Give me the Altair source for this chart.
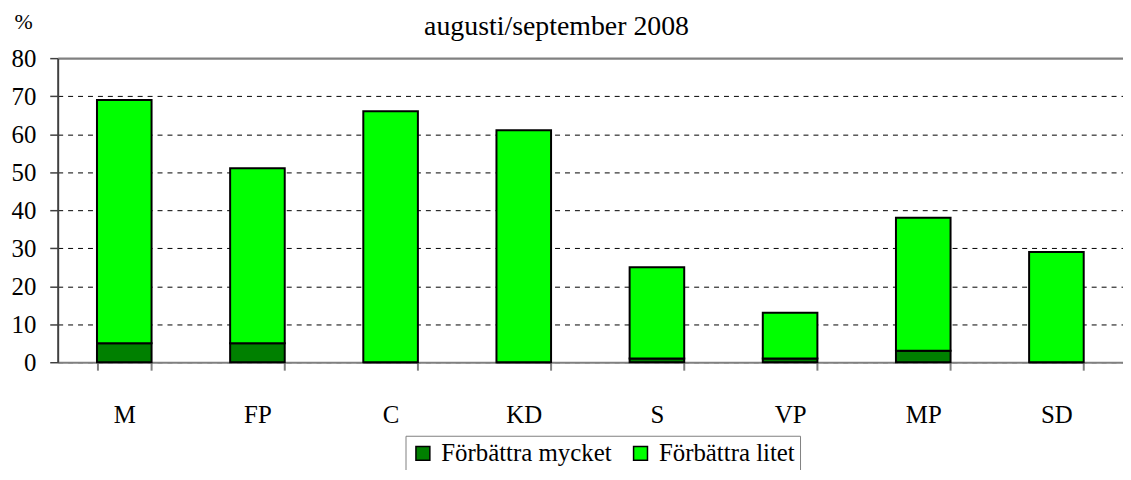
import altair as alt
import pandas as pd

parties = ["M", "FP", "C", "KD", "S", "VP", "MP", "SD"]
mycket = [5, 5, 0, 0, 1, 1, 3, 0]
litet = [64, 46, 66, 61, 24, 12, 35, 29]
series = ["Förbättra mycket", "Förbättra litet"]
colors = ["#008000", "#00FF00"]
y_ticks = [0, 10, 20, 30, 40, 50, 60, 70, 80]

rows = []
for p, a, b in zip(parties, mycket, litet):
    rows.append({"party": p, "series": series[0], "value": a, "ord": 0})
    rows.append({"party": p, "series": series[1], "value": b, "ord": 1})
df = pd.DataFrame(rows)

FONT = "Liberation Serif"

chart = alt.Chart(df).mark_bar(stroke="black", strokeWidth=2).encode(
    x=alt.X("party:N", sort=parties, title=None,
            scale=alt.Scale(paddingInner=0.59, paddingOuter=0.295),
            axis=alt.Axis(labelAngle=0, tickBand="extent", domainColor="#808080",
                          domainWidth=2, tickColor="#808080", tickWidth=2, tickSize=8,
                          labelPadding=33, labelFont=FONT, labelFontSize=25,
                          labelColor="black", grid=False)),
    y=alt.Y("value:Q", stack="zero", title="%",
            scale=alt.Scale(domain=[0, 80], nice=False),
            axis=alt.Axis(values=y_ticks, domainColor="#404040", domainWidth=2,
                          tickColor="#404040", tickWidth=1.5, tickSize=8,
                          labelPadding=14, labelFont=FONT, labelFontSize=25,
                          labelColor="black",
                          grid=True,
                          gridColor={"condition": {"test": "datum.value === 80", "value": "#808080"}, "value": "black"},
                          gridDash={"condition": {"test": "datum.value === 80", "value": []}, "value": [5, 5]},
                          gridWidth={"condition": {"test": "datum.value === 80", "value": 2.5}, "value": 1},
                          titleAngle=0, titleAlign="left", titleBaseline="middle",
                          titleX=-44, titleY=-37, titleFont=FONT, titleFontSize=22,
                          titleFontWeight="normal", titleColor="black")),
    color=alt.Color("series:N", scale=alt.Scale(domain=series, range=colors),
                    legend=alt.Legend(title=None, orient="none", direction="horizontal",
                                      legendX=350, legendY=380,
                                      symbolType="square", symbolSize=196,
                                      symbolStrokeColor="black", symbolStrokeWidth=1.5,
                                      symbolOpacity=1,
                                      labelFont=FONT, labelFontSize=25, labelColor="black",
                                      labelLimit=300, columnPadding=16, labelOffset=6,
                                      strokeColor="#808080", padding=5)),
    order=alt.Order("ord:Q"),
).properties(
    width=1072, height=306,
    title=alt.TitleParams("augusti/september 2008", font=FONT, fontSize=28,
                          fontWeight="normal", color="black", anchor="middle",
                          baseline="alphabetic", dx=-34, offset=-53),
    autosize=alt.AutoSizeParams(type="none"),
    padding={"left": 50, "top": 49, "right": 0, "bottom": 107},
).configure_view(stroke=None)

chart.save("out.html", embed_options={"renderer": "svg", "actions": False})
